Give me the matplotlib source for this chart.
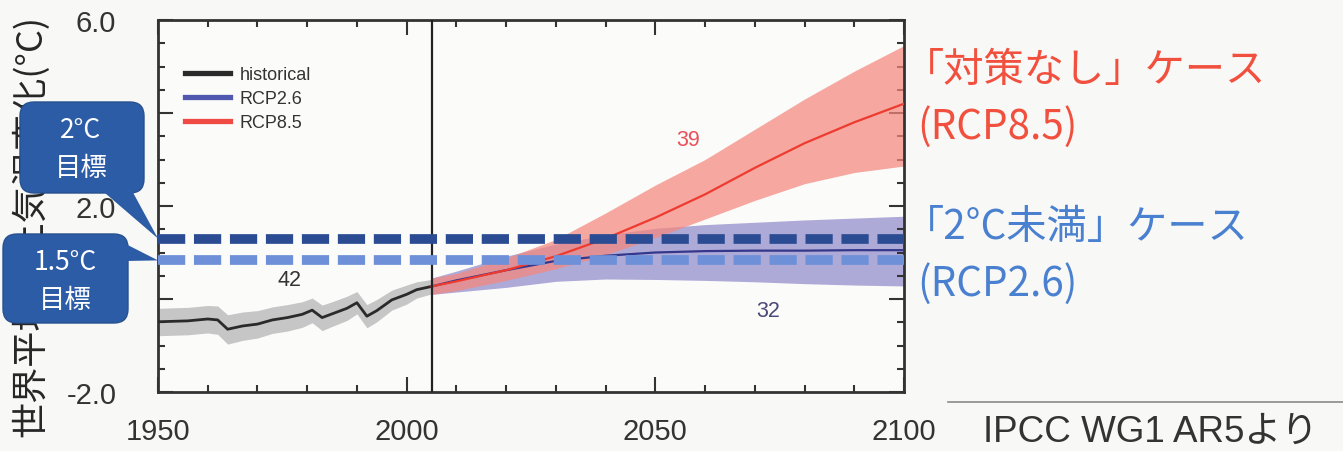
import matplotlib
matplotlib.use('Agg')
import matplotlib.pyplot as plt
from matplotlib.patches import FancyBboxPatch, Polygon
from matplotlib.lines import Line2D
from matplotlib.ticker import MultipleLocator

plt.rcParams['font.family'] = ['Liberation Sans', 'Noto Sans CJK JP', 'DejaVu Sans']

# ---------------- data ----------------
hist_years = [1950, 1953, 1956, 1960, 1962, 1964, 1967, 1970, 1973, 1976, 1979,
              1981, 1983, 1985, 1988, 1990, 1992, 1994, 1997, 2000, 2002, 2005]
hist_mean = [-0.49, -0.48, -0.47, -0.43, -0.45, -0.65, -0.58, -0.54, -0.45, -0.40, -0.33,
             -0.24, -0.40, -0.32, -0.20, -0.08, -0.37, -0.25, -0.02, 0.10, 0.20, 0.27]
hist_low = [-0.79, -0.78, -0.77, -0.73, -0.76, -0.97, -0.89, -0.84, -0.74, -0.69, -0.61,
            -0.51, -0.68, -0.59, -0.46, -0.32, -0.62, -0.49, -0.24, -0.11, 0.02, 0.11]
hist_high = [-0.20, -0.19, -0.18, -0.14, -0.15, -0.34, -0.28, -0.25, -0.17, -0.12, -0.06,
             0.02, -0.13, -0.06, 0.06, 0.16, -0.12, -0.01, 0.19, 0.30, 0.37, 0.42]

proj_years = [2005, 2010, 2020, 2030, 2040, 2050, 2060, 2070, 2080, 2090, 2100]
rcp85_mean = [0.27, 0.38, 0.62, 0.92, 1.30, 1.75, 2.25, 2.82, 3.35, 3.80, 4.20]
rcp85_high = [0.45, 0.55, 0.88, 1.28, 1.85, 2.45, 3.00, 3.65, 4.30, 4.90, 5.45]
rcp85_low = [0.10, 0.18, 0.40, 0.65, 0.95, 1.32, 1.72, 2.12, 2.48, 2.72, 2.86]
rcp26_mean = [0.27, 0.40, 0.62, 0.82, 0.93, 1.00, 1.03, 1.04, 1.04, 1.05, 1.05]
rcp26_high = [0.45, 0.60, 0.92, 1.18, 1.38, 1.52, 1.60, 1.65, 1.70, 1.74, 1.78]
rcp26_low = [0.10, 0.15, 0.25, 0.38, 0.43, 0.42, 0.40, 0.37, 0.33, 0.30, 0.28]

goal_2c = 1.30
goal_15c = 0.83
split_year = 2005

model_counts = ['42', '39', '32']
count_pos = [(1976.5, 0.41), (2056.6, 3.42), (2072.7, -0.24)]

xticks = [1950, 2000, 2050, 2100]
xtick_labels = ['1950', '2000', '2050', '2100']
yticks = [-2, 0, 2, 4, 6]
ytick_labels = ['-2.0', '', '2.0', '', '6.0']

legend_labels = ['historical', 'RCP2.6', 'RCP8.5']
ylabel = '世界平均地上気温変化(°C)'
case_texts = ['「対策なし」ケース', '(RCP8.5)', '「2°C未満」ケース', '(RCP2.6)']
callout_texts = ['2°C', '1.5°C', '目標']
source_text = 'IPCC WG1 AR5より'

# ---------------- figure ----------------
W, H = 1343, 452
bg = '#f8f8f6'
fig = plt.figure(figsize=(W / 100, H / 100), dpi=100, facecolor=bg)
ax = fig.add_axes([158 / W, 1 - 393 / H, 746 / W, 372 / H])
ax.set_facecolor('#fbfbfa')

ax.fill_between(hist_years, hist_low, hist_high, color='#c6c6c6', lw=0, zorder=1)
ax.fill_between(proj_years, rcp26_low, rcp26_high, color='#aeaad8', lw=0, zorder=1)
ax.fill_between(proj_years, rcp85_low, rcp85_high, color='#f5877d', alpha=0.72, lw=0, zorder=2)
ax.plot(hist_years, hist_mean, color='#2a2a2a', lw=2.0, zorder=3)
ax.plot(proj_years, rcp26_mean, color='#34378a', lw=1.6, zorder=3)
ax.plot(proj_years, rcp85_mean, color='#ee3b30', lw=1.6, zorder=3)

ax.axvline(split_year, color='#222222', lw=1.6, zorder=3)

ax.axhline(goal_2c, color='#2b4c93', lw=7, linestyle=(0, (2.8, 0.9)),
           dash_capstyle='butt', zorder=4)
ax.axhline(goal_15c, color='#6e90d8', lw=7, linestyle=(0, (2.8, 0.9)),
           dash_capstyle='butt', zorder=4)

count_colors = ['#333333', '#e8505a', '#4a4a78']
for t, (cx, cy), c in zip(model_counts, count_pos, count_colors):
    ax.text(cx, cy, t, color=c, fontsize=15.5, ha='center', va='center', zorder=5)

ax.set_xlim(1950, 2100)
ax.set_ylim(-2, 6)
ax.set_xticks(xticks)
ax.set_xticklabels(xtick_labels)
ax.set_yticks(yticks)
ax.set_yticklabels(ytick_labels)
ax.xaxis.set_minor_locator(MultipleLocator(10))
ax.yaxis.set_minor_locator(MultipleLocator(0.5))
ax.tick_params(which='both', direction='in', top=True, right=True, color='#333333', width=1.5)
ax.tick_params(which='major', length=11)
ax.tick_params(which='minor', length=5)
ax.tick_params(axis='both', labelsize=21, labelcolor='#333333')
ax.tick_params(axis='x', pad=18)
ax.tick_params(axis='y', pad=30)
for s in ax.spines.values():
    s.set_color('#333333')
    s.set_linewidth(2)

handles = [Line2D([], [], color='#2a2a2a', lw=3.8),
           Line2D([], [], color='#5058b0', lw=3.8),
           Line2D([], [], color='#f04a45', lw=3.8)]
leg = ax.legend(handles, legend_labels, loc='upper left', bbox_to_anchor=(0.036, 0.875),
                frameon=False, fontsize=13, handlelength=2.5, handletextpad=0.55,
                labelspacing=0.38, borderpad=0, borderaxespad=0)
for t in leg.get_texts():
    t.set_color('#333333')

# y label (partly covered by callouts)
fig.text(31 / W, 1 - 226 / H, ylabel, rotation=90, ha='center', va='center',
         fontsize=26, color='#262626', family=['Noto Sans CJK JP', 'DejaVu Sans'], zorder=3)

# right-side case texts
red_c, blue_c = '#f2503e', '#4a80d0'
fig.text(904 / W, 1 - 70 / H, case_texts[0], color=red_c, fontsize=29, ha='left', va='center',
         family=['Noto Sans CJK JP'])
fig.text(917 / W, 1 - 127 / H, case_texts[1], color=red_c, fontsize=29, ha='left', va='center',
         family=['Noto Sans CJK JP'])
fig.text(904 / W, 1 - 228 / H, case_texts[2], color=blue_c, fontsize=29, ha='left', va='center',
         family=['Noto Sans CJK JP'])
fig.text(917 / W, 1 - 284 / H, case_texts[3], color=blue_c, fontsize=29, ha='left', va='center',
         family=['Noto Sans CJK JP'])

# source box
fig.add_artist(Line2D([948 / W, 1.0], [1 - 403 / H, 1 - 403 / H], color='#8a8a8a', lw=1.2))
fig.text(983 / W, 1 - 432 / H, source_text, color='#333333', fontsize=26.5, ha='left', va='center',
         family=['Liberation Sans', 'Noto Sans CJK JP'])

# ---------------- callouts (overlay in pixel units) ----------------
ov = fig.add_axes([0, 0, 1, 1], zorder=5)
ov.set_xlim(0, W)
ov.set_ylim(H, 0)
ov.axis('off')
ov.patch.set_alpha(0)

def to_px(x, y):
    d = ax.transData.transform((x, y))
    return ov.transData.inverted().transform(d)

call_c = '#2d5ca6'
tip1 = to_px(1950, goal_2c)
tip2 = to_px(1950, goal_15c)

ov.add_patch(FancyBboxPatch((20, 103), 124, 91, boxstyle='round,pad=0,rounding_size=14',
                            fc=call_c, ec='#27518f', lw=1))
ov.add_patch(Polygon([(98, 188), (130, 188), tip1], closed=True, fc=call_c, ec='none'))
ov.text(81, 131, callout_texts[0], color='white', fontsize=19, ha='center', va='center',
        family=['Noto Sans CJK JP'])
ov.text(81, 169, callout_texts[2], color='white', fontsize=19, ha='center', va='center',
        family=['Noto Sans CJK JP'])

ov.add_patch(FancyBboxPatch((3, 235), 125, 89, boxstyle='round,pad=0,rounding_size=14',
                            fc=call_c, ec='#27518f', lw=1))
ov.add_patch(Polygon([(108, 236), (126, 262), tip2], closed=True, fc=call_c, ec='none'))
ov.text(65, 263, callout_texts[1], color='white', fontsize=19, ha='center', va='center',
        family=['Noto Sans CJK JP'])
ov.text(65, 301, callout_texts[2], color='white', fontsize=19, ha='center', va='center',
        family=['Noto Sans CJK JP'])

fig.savefig('out.png', dpi=100, facecolor=fig.get_facecolor())
